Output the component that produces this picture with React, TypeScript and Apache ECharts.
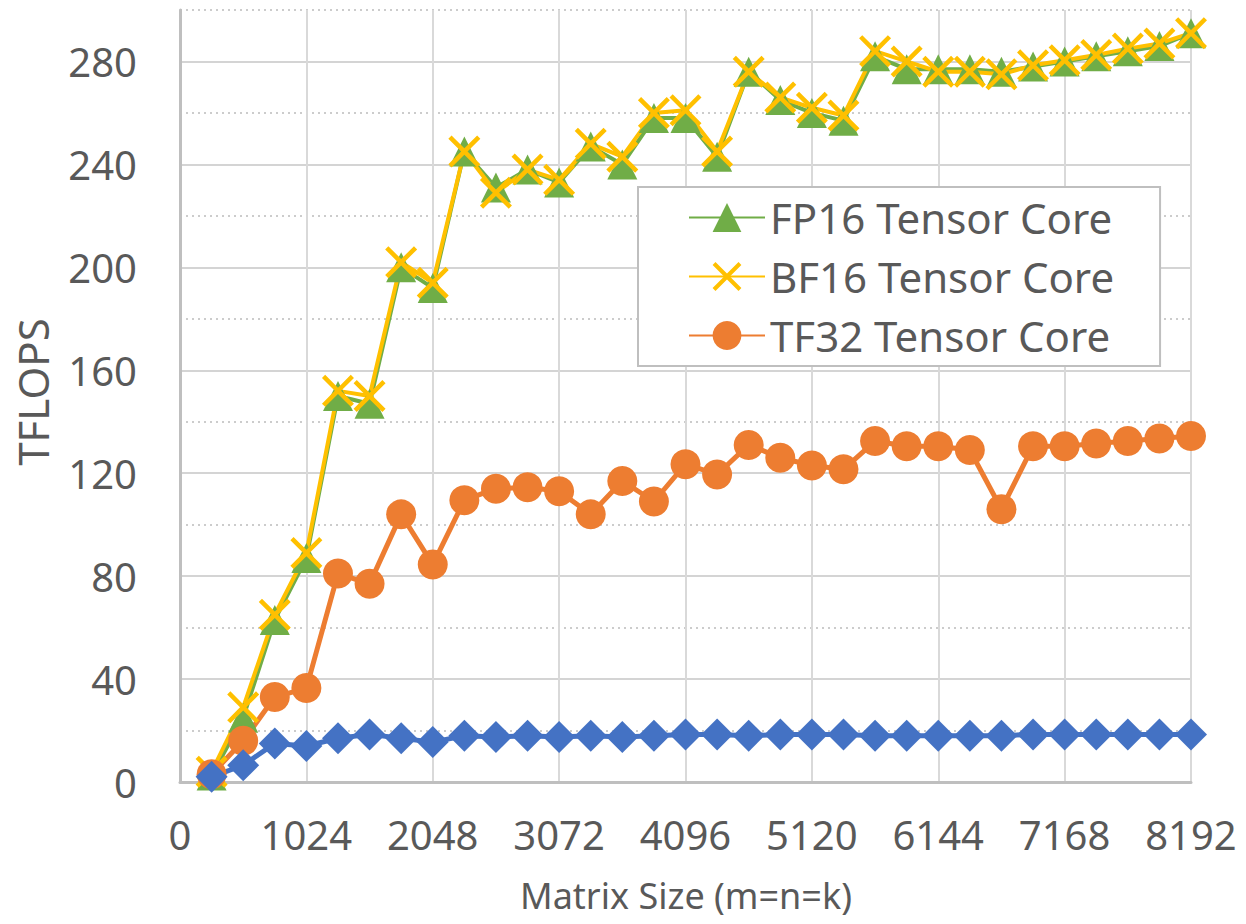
import React, { useEffect, useRef } from "react";
import * as echarts from "echarts";

const sizes = [256, 512, 768, 1024, 1280, 1536, 1792, 2048, 2304, 2560, 2816, 3072, 3328, 3584, 3840, 4096, 4352, 4608, 4864, 5120, 5376, 5632, 5888, 6144, 6400, 6656, 6912, 7168, 7424, 7680, 7936, 8192];
const fp16 = [2.5, 25, 63, 87, 150, 147, 200, 192, 245, 231, 238, 233, 247, 240, 258, 258, 243, 276, 265, 260, 257, 282, 277, 277, 277, 276, 278, 280, 282, 284, 286, 291];
const bf16 = [4, 29, 65, 89, 152, 150, 202, 194, 245, 229, 238, 234, 248, 243, 260, 261, 245, 276, 266, 262, 259, 284, 280, 276, 276, 275, 278.5, 280.5, 282.5, 285, 287, 291];
const tf32 = [3, 16, 33, 36.5, 81, 77, 104, 84.5, 109.5, 114, 114.5, 113, 104, 117, 109, 123.5, 119.5, 131, 126, 123, 121.5, 132.5, 130.5, 130.5, 129, 106, 130.5, 130.5, 131.5, 132.5, 133.5, 134.5];
const fp32 = [2, 6.5, 15, 14, 17, 18.5, 17, 15.5, 18, 17.5, 18, 17.5, 18, 17.5, 18, 18.5, 18.5, 18, 18.5, 18.5, 18.5, 18, 18, 18, 18, 18, 18.5, 18.5, 18.5, 18.5, 18.5, 18.5];

const xTicks = [0, 1024, 2048, 3072, 4096, 5120, 6144, 7168, 8192];
const yTicks = [0, 40, 80, 120, 160, 200, 240, 280];

const seriesNames = ["FP16 Tensor Core", "BF16 Tensor Core", "TF32 Tensor Core", "FP32"];
const legendNames = ["FP16 Tensor Core", "BF16 Tensor Core", "TF32 Tensor Core"];
const xTitle = "Matrix Size (m=n=k)";
const yTitle = "TFLOPS";

const FONT = "'Noto Sans', 'Open Sans', sans-serif";
const TXT = "#595959";
const X_SYMBOL = "path://M0,10 L10,0 L50,40 L90,0 L100,10 L60,50 L100,90 L90,100 L50,60 L10,100 L0,90 L40,50 Z";

const pairs = (vals: number[]) => sizes.map((s, i) => [s, vals[i]]);

export default function App() {
  const ref = useRef<HTMLDivElement>(null);
  useEffect(() => {
    if (!ref.current) return;
    const chart = echarts.init(ref.current, undefined, { renderer: "svg" });
    const mk = (name: string, vals: number[], color: string, symbol: string, symbolSize: number, width: number) => ({
      name,
      type: "line",
      data: pairs(vals),
      symbol,
      symbolSize,
      showAllSymbol: true,
      lineStyle: { color, width },
      itemStyle: { color, borderWidth: 0 },
      emphasis: { disabled: true },
    });
    chart.setOption({
      animation: false,
      backgroundColor: "#ffffff",
      textStyle: { fontFamily: FONT },
      grid: { left: 180, right: 55, top: 10, bottom: 142, containLabel: false },
      xAxis: {
        type: "value",
        min: 0,
        max: 8192,
        interval: 1024,
        axisLine: { show: true, onZero: false, lineStyle: { color: "#bfbfbf", width: 3 } },
        axisTick: { show: false },
        axisLabel: {
          color: TXT,
          fontSize: 40,
          fontFamily: FONT,
          margin: 32,
          formatter: (v: number) => (xTicks.includes(v) ? String(v) : ""),
        },
        splitLine: { show: true, lineStyle: { color: "#d9d9d9", width: 2 } },
      },
      yAxis: [
        {
          type: "value",
          min: 0,
          max: 300,
          interval: 20,
          axisLine: { show: true, lineStyle: { color: "#bfbfbf", width: 3 } },
          axisTick: { show: false },
          axisLabel: {
            color: TXT,
            fontSize: 40,
            fontFamily: FONT,
            margin: 43,
            formatter: (v: number) => (yTicks.includes(v) ? String(v) : ""),
          },
          splitLine: { show: true, lineStyle: { color: ["#d4d4d4", "rgba(0,0,0,0)"], width: 2 } },
        },
        {
          type: "value",
          min: 0,
          max: 300,
          interval: 20,
          position: "left",
          axisLine: { show: false },
          axisTick: { show: false },
          axisLabel: { show: false },
          splitLine: { show: true, lineStyle: { color: ["rgba(0,0,0,0)", "#cccccc"], width: 2, type: [2, 4] } },
        },
      ],
      legend: {
        data: legendNames,
        orient: "vertical",
        left: 638,
        top: 187,
        padding: [6, 46, 6, 50],
        itemGap: 10,
        itemWidth: 76,
        itemHeight: 36,
        backgroundColor: "#ffffff",
        borderColor: "#bfbfbf",
        borderWidth: 2,
        borderRadius: 0,
        selectedMode: false,
        textStyle: { color: TXT, fontSize: 42, fontFamily: FONT, lineHeight: 49 },
      },
      graphic: [
        {
          type: "text",
          x: 32,
          y: 392,
          rotation: Math.PI / 2,
          style: { text: yTitle, fill: TXT, font: `42px ${FONT}`, align: "center", verticalAlign: "middle" },
        },
        {
          type: "text",
          x: 686,
          y: 895,
          style: { text: xTitle, fill: TXT, font: `36px ${FONT}`, align: "center", verticalAlign: "middle" },
        },
      ],
      series: [
        mk(seriesNames[0], fp16, "#70AD47", "triangle", 30, 4),
        mk(seriesNames[1], bf16, "#FFC000", X_SYMBOL, 32, 4),
        mk(seriesNames[2], tf32, "#ED7D31", "circle", 30, 5),
        mk(seriesNames[3], fp32, "#4472C4", "diamond", 32, 5),
      ],
    });
    return () => chart.dispose();
  }, []);
  return <div ref={ref} style={{ position: "absolute", left: 0, top: 0, width: 1246, height: 924 }} />;
}
